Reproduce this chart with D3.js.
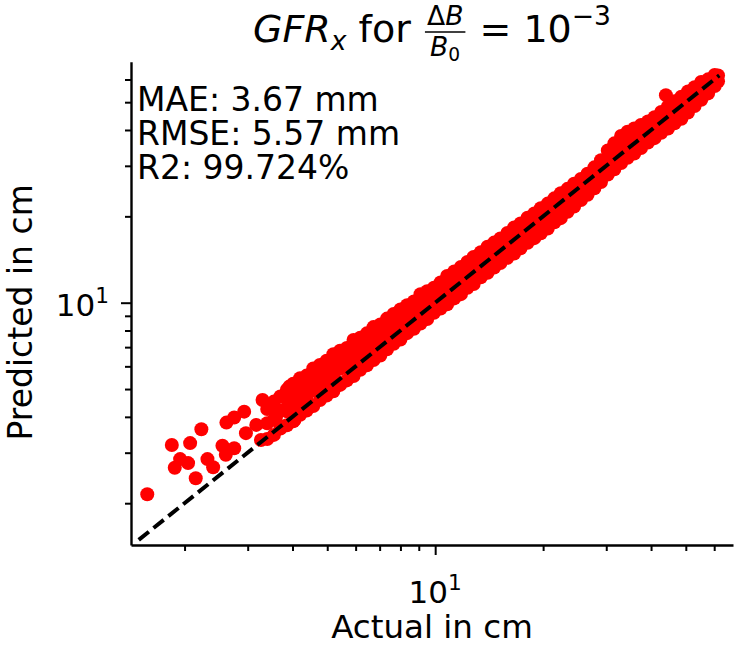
<!DOCTYPE html>
<html>
<head>
<meta charset="utf-8">
<script src="https://cdn.jsdelivr.net/npm/d3@7"></script>
<style>
  body { margin: 0; background: #fff; }
  svg { display: block; }
  text { font-family: "DejaVu Sans", sans-serif; fill: #000; white-space: pre; }
</style>
</head>
<body>
<svg id="chart" width="735" height="646"></svg>
<script>
// Sparse low-range samples (actual cm, predicted cm)
const sparseActual = [1.574, 1.843, 2.073, 2.228, 1.944, 1.878, 2.046, 2.149, 2.317, 2.403,
  2.551, 2.607, 2.751, 2.617, 2.751, 2.933, 2.966, 3.266, 3.30, 3.17, 3.52, 3.60, 3.92, 3.75,
  4.05, 4.18, 4.36, 4.55];
const sparsePredicted = [2.15, 3.19, 3.24, 3.62, 2.85, 2.66, 2.76, 2.445, 2.85, 2.67,
  3.17, 2.95, 3.11, 3.82, 3.98, 4.17, 3.51, 3.32, 4.58, 3.75, 4.34, 4.01, 5.10, 3.70,
  3.90, 4.23, 4.65, 5.10];

// Dense band: each actual value with the predictions observed at it
const bandActual = [3.40, 3.55, 3.70, 3.86, 4.02, 4.20, 4.38, 4.57, 4.77, 4.98,
  5.20, 5.43, 5.67, 5.92, 6.18, 6.45, 6.73, 7.03, 7.34, 7.66,
  8.00, 8.35, 8.72, 9.10, 9.50, 9.92, 10.35, 10.8, 11.3, 11.8,
  12.3, 12.8, 13.4, 14.0, 14.6, 15.2, 15.9, 16.6, 17.3, 18.1,
  18.9, 19.7, 20.6, 21.5, 22.4, 23.4, 24.4, 25.5, 26.6, 27.8,
  29.0, 30.3, 31.6, 33.0, 34.4, 35.9, 37.5, 39.2, 40.9, 42.7,
  44.6, 46.5, 48.6, 50.7, 52.9, 55.2, 57.7, 60.2, 61.5, 44.0];
const bandPredicted = [
  [3.35, 3.80, 4.26], [3.46, 3.91, 4.52], [3.64, 4.21, 4.71], [3.74, 4.18, 4.60, 4.97],
  [3.86, 4.29, 4.72, 5.22], [4.07, 4.62, 5.09, 5.45], [4.21, 4.59, 5.06, 5.57],
  [4.36, 4.95, 5.45, 5.90], [4.58, 5.08, 5.60, 6.07], [4.75, 5.22, 5.75, 6.28],
  [4.91, 5.54, 6.10, 6.61], [5.17, 5.88, 6.48, 6.80], [5.36, 5.95, 6.45, 6.95],
  [5.55, 6.12, 6.73, 7.41], [5.84, 6.48, 7.14, 7.55], [6.05, 6.66, 7.22, 7.82],
  [6.31, 7.00, 7.59, 8.22], [6.54, 7.20, 7.81, 8.39], [6.88, 7.58, 8.21, 8.80],
  [7.19, 7.78, 8.43, 9.14], [7.44, 8.19, 8.88, 9.47], [7.83, 8.62, 9.19, 9.80],
  [8.11, 8.86, 9.52, 10.1], [8.46, 9.32, 10.0, 10.7], [8.77, 9.58, 10.3, 10.97],
  [9.23, 10.08, 10.74, 11.27], [9.55, 10.35, 11.1, 11.77], [9.87, 10.89, 11.6, 12.4],
  [10.35, 11.21, 12.05, 12.85], [10.71, 11.8, 12.58, 13.31], [11.27, 12.3, 13.22, 13.87],
  [11.62, 12.6, 13.55, 14.44], [12.27, 13.3, 14.18, 15.0], [12.71, 13.78, 14.69, 15.67],
  [13.26, 14.48, 15.32, 16.2], [13.74, 14.84, 15.82, 16.74], [14.33, 15.64, 16.68, 17.5],
  [14.84, 16.2, 17.28, 18.28], [15.47, 16.75, 17.87, 18.9], [16.18, 17.52, 18.7, 19.77],
  [16.79, 18.16, 19.35, 20.47], [17.47, 18.93, 20.17, 21.34], [18.13, 19.63, 20.93, 22.15],
  [19.06, 20.66, 21.84, 23.11], [19.71, 21.35, 22.76, 24.08], [20.75, 22.49, 23.77, 24.94],
  [21.63, 23.45, 24.6, 26.0], [22.8, 24.68, 25.7, 26.98], [23.78, 25.75, 26.81, 28.14],
  [25.05, 26.91, 28.25, 29.63], [26.33, 28.3, 29.7, 31.4], [27.97, 29.82, 31.79, 33.91],
  [29.17, 31.35, 33.68, 35.93], [30.69, 33.0, 35.48, 38.1], [31.99, 34.68, 37.26, 39.42],
  [33.14, 35.9, 38.27, 40.5], [34.61, 37.2, 39.34, 41.63], [36.18, 38.89, 41.12, 42.8],
  [37.46, 40.25, 42.58, 44.3], [39.11, 42.02, 44.11, 46.25], [40.5, 43.53, 46.07, 48.3],
  [42.22, 45.38, 48.03, 50.36], [43.79, 47.43, 49.77, 52.25], [46.04, 49.48, 51.92, 54.5],
  [48.46, 52.05, 54.17, 56.39], [50.95, 54.31, 56.53, 58.84], [53.66, 57.16, 60.07],
  [56.89, 59.72, 62.19], [59.1, 62.0], [52.9]
];

// Identity reference line end points (cm)
const identityLine = [1.49, 62];

// Axis limits and ticks (cm)
const xLimits = [1.418, 67.7];
const yLimits = [1.43, 69.2];
const minorTicks = [2, 3, 4, 5, 6, 7, 8, 9, 20, 30, 40, 50, 60];
const majorTicks = [10];

const metricLines = ["MAE: 3.67 mm", "RMSE: 5.57 mm", "R2: 99.724%"];

const points = [];
sparseActual.forEach((a, i) => points.push({ a, p: sparsePredicted[i] }));
bandActual.forEach((a, i) => bandPredicted[i].forEach(p => points.push({ a, p })));

const svg = d3.select("#chart");
const plotLeft = 131, plotRight = 733, plotTop = 61.7, plotBottom = 545;

const x = d3.scaleLog().domain(xLimits).range([plotLeft, plotRight]);
const y = d3.scaleLog().domain(yLimits).range([plotBottom, plotTop]);

// scatter
svg.append("g")
  .selectAll("circle")
  .data(points)
  .join("circle")
  .attr("cx", d => x(d.a))
  .attr("cy", d => y(d.p))
  .attr("r", 7)
  .attr("fill", "#ff0000");

// identity line
svg.append("path")
  .datum(identityLine)
  .attr("d", d3.line().x(v => x(v)).y(v => y(v)))
  .attr("fill", "none")
  .attr("stroke", "#000")
  .attr("stroke-width", 4)
  .attr("stroke-dasharray", "13,6");

// axes
const fs = 33;
function styleAxis(g) {
  g.selectAll("line").attr("stroke", "#000").attr("stroke-width", 2);
  g.selectAll("path").attr("stroke", "#000").attr("stroke-width", 2.4);
}

const gx = svg.append("g").attr("transform", `translate(0,${plotBottom})`);
gx.append("g").call(d3.axisBottom(x).tickValues(minorTicks).tickSize(6).tickSizeOuter(0).tickFormat(""))
  .call(styleAxis);
gx.append("g").call(d3.axisBottom(x).tickValues(majorTicks).tickSize(10).tickFormat(""))
  .call(g => g.select(".domain").remove())
  .call(styleAxis);

const gy = svg.append("g").attr("transform", `translate(${plotLeft},0)`);
gy.append("g").call(d3.axisLeft(y).tickValues(minorTicks).tickSize(6).tickSizeOuter(0).tickFormat(""))
  .call(styleAxis);
gy.append("g").call(d3.axisLeft(y).tickValues(majorTicks).tickSize(10).tickFormat(""))
  .call(g => g.select(".domain").remove())
  .call(styleAxis);

// power-of-ten tick labels
const tickFs = 31;
function powerLabel(sel, v) {
  const e = Math.round(Math.log10(v));
  sel.append("tspan").text("10");
  sel.append("tspan").attr("font-size", tickFs * 0.7).attr("dy", -tickFs * 0.42).text(e);
}
majorTicks.forEach(v => {
  svg.append("text").attr("x", x(v)).attr("y", 603)
    .attr("text-anchor", "middle").attr("font-size", tickFs).call(powerLabel, v);
  svg.append("text").attr("x", plotLeft - 22).attr("y", y(v) + 13)
    .attr("text-anchor", "end").attr("font-size", tickFs).call(powerLabel, v);
});

// axis titles
svg.append("text").attr("x", (plotLeft + plotRight) / 2).attr("y", 638)
  .attr("text-anchor", "middle").attr("font-size", 32.5).text("Actual in cm");
svg.append("text").attr("transform", `translate(32,${(plotTop + plotBottom) / 2 + 9}) rotate(-90)`)
  .attr("text-anchor", "middle").attr("font-size", 33).text("Predicted in cm");

// metrics block (one multi-line text)
const metrics = svg.append("text").attr("x", 137).attr("y", 111).attr("font-size", fs);
metricLines.forEach((t, i) => {
  metrics.append("tspan").attr("x", 137).attr("dy", i === 0 ? 0 : 34).text(t);
});

// title: GFR_x for ΔB/B0 = 10^-3
const tfs = 38, small = tfs * 0.7, base = 42;
const title = svg.append("g");
let cx = 0;
function piece(str, opts = {}) {
  const t = title.append("text").attr("x", cx).attr("y", base + (opts.dy || 0))
    .attr("font-size", opts.size || tfs)
    .attr("font-style", opts.italic ? "italic" : "normal")
    .text(str);
  cx += t.node().getComputedTextLength();
  return t;
}
piece("GFR", { italic: true });
piece("x", { italic: true, size: small, dy: tfs * 0.2 });
piece(" for ");
// fraction
const fx = cx + 2;
const num = title.append("text").attr("x", fx).attr("y", base - tfs * 0.45).attr("font-size", small);
num.append("tspan").text("Δ");
num.append("tspan").attr("font-style", "italic").text("B");
const den = title.append("text").attr("x", fx).attr("y", base + tfs * 0.36).attr("font-size", small);
den.append("tspan").attr("font-style", "italic").text("B");
den.append("tspan").attr("font-size", small * 0.7).attr("dy", small * 0.2).text("0");
const nw = num.node().getComputedTextLength(), dw = den.node().getComputedTextLength();
const fw = Math.max(nw, dw) + 4;
num.attr("x", fx + (fw - nw) / 2);
den.attr("x", fx + (fw - dw) / 2);
title.append("line").attr("x1", fx).attr("x2", fx + fw)
  .attr("y1", base - tfs * 0.26).attr("y2", base - tfs * 0.26)
  .attr("stroke", "#000").attr("stroke-width", 1.5);
cx = fx + fw + 2;
piece(" = 10");
piece("−3", { size: small, dy: -tfs * 0.44 });
const tw = cx;
title.attr("transform", `translate(${(plotLeft + plotRight) / 2 - tw / 2},0)`);
</script>
</body>
</html>
